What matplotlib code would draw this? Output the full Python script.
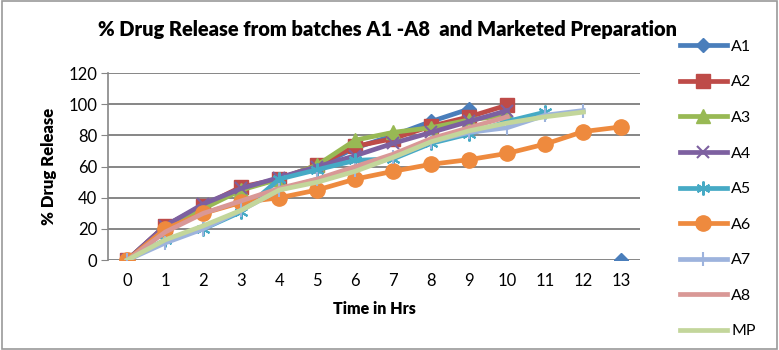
import numpy as np
import matplotlib
matplotlib.use("Agg")
import matplotlib.pyplot as plt
from matplotlib.patches import Rectangle

plt.rcParams['font.family'] = ['Lato', 'DejaVu Sans']

hours = list(range(14))
nan = np.nan

# % drug release per batch
A1 = [0, 22, 35, 46, 52, 60, 72, 80, 89, 97, nan, nan, nan, 0]
A2 = [0, 22, 35, 47, 52, 61, 73, 78, 86, 92, 99.5]
A3 = [0, 20, 33, 45, 52, 61, 77, 82, 85, 90, 93]
A4 = [0, 22, 36, 46, 53, 60, 67, 75, 82, 89, 96]
A5 = [0, 13, 20, 31, 52, 58, 64, 65, 75, 81, 89, 95]
A6 = [0, 20, 30, 37, 40, 45, 52, 57, 61.5, 64.5, 68.5, 74.5, 82.5, 85.5]
A7 = [0, 11, 20, 32, 45, 52, 58, 66, 76, 82, 85, 93, 96]
A8 = [0, 18, 30, 38, 46, 52, 60, 68, 78, 85, 92]
MP = [0, 13, 22, 32, 45, 50, 57, 66, 76, 83, 88, 92, 95]

names = ['A1', 'A2', 'A3', 'A4', 'A5', 'A6', 'A7', 'A8', 'MP']
series = [A1, A2, A3, A4, A5, A6, A7, A8, MP]
colors = ['#4a7ebb', '#be4b48', '#98b954', '#7d60a0', '#46aac5', '#ee8a3e',
          '#9db3dd', '#d99896', '#c3d69b']
markers = ['D', 's', '^', 'x', (6, 2, 0), 'o', '|', None, None]
msizes = [7.5, 9.5, 9.5, 8.5, 10, 11, 10, 0, 0]

fig = plt.figure(figsize=(7.79, 3.5), dpi=100)
fig.patches.append(Rectangle((0.002, 0.003), 0.995, 0.993, transform=fig.transFigure,
                             fill=False, edgecolor='#9a9a9a', linewidth=1.2))
ax = fig.add_axes([0.139, 0.257, 0.683, 0.534])

for name, vals, c, m, ms in zip(names, series, colors, markers, msizes):
    y = np.full(len(hours), nan)
    y[:len(vals)] = vals
    ax.plot(hours, y, color=c, lw=3.4, marker=m, markersize=ms,
            markeredgewidth=1.5 if m in ('x', '|') or isinstance(m, tuple) else 1,
            markeredgecolor=c, label=name, zorder=3)

ax.set_xlim(-0.5, 13.5)
ax.set_ylim(0, 120)
ax.set_xticks(hours)
ax.set_yticks(range(0, 121, 20))
ax.yaxis.grid(True, color='#868686', lw=1.4)
ax.set_axisbelow(True)
for s in ['top', 'right', 'bottom']:
    ax.spines[s].set_visible(False)
ax.spines['left'].set_color('#868686')
ax.spines['left'].set_linewidth(1.2)
ax.tick_params(axis='x', length=0, labelsize=12, pad=9)
ax.tick_params(axis='y', length=5, color='#868686', labelsize=12, pad=3)

ax.set_xlabel('Time in Hrs', fontsize=11.5, fontweight='heavy', labelpad=9)
ax.set_ylabel('% Drug Release', fontsize=12, fontweight='heavy', labelpad=8)
fig.text(0.497, 0.915, '% Drug Release from batches A1 -A8  and Marketed Preparation',
         ha='center', va='center', fontsize=14.4, fontweight='heavy')

fig.legend(loc='upper left', bbox_to_anchor=(0.865, 0.905), frameon=False,
           fontsize=11.5, handlelength=2.9, labelspacing=1.34, handletextpad=0.3,
           borderaxespad=0)

fig.savefig('out.png', dpi=100)
